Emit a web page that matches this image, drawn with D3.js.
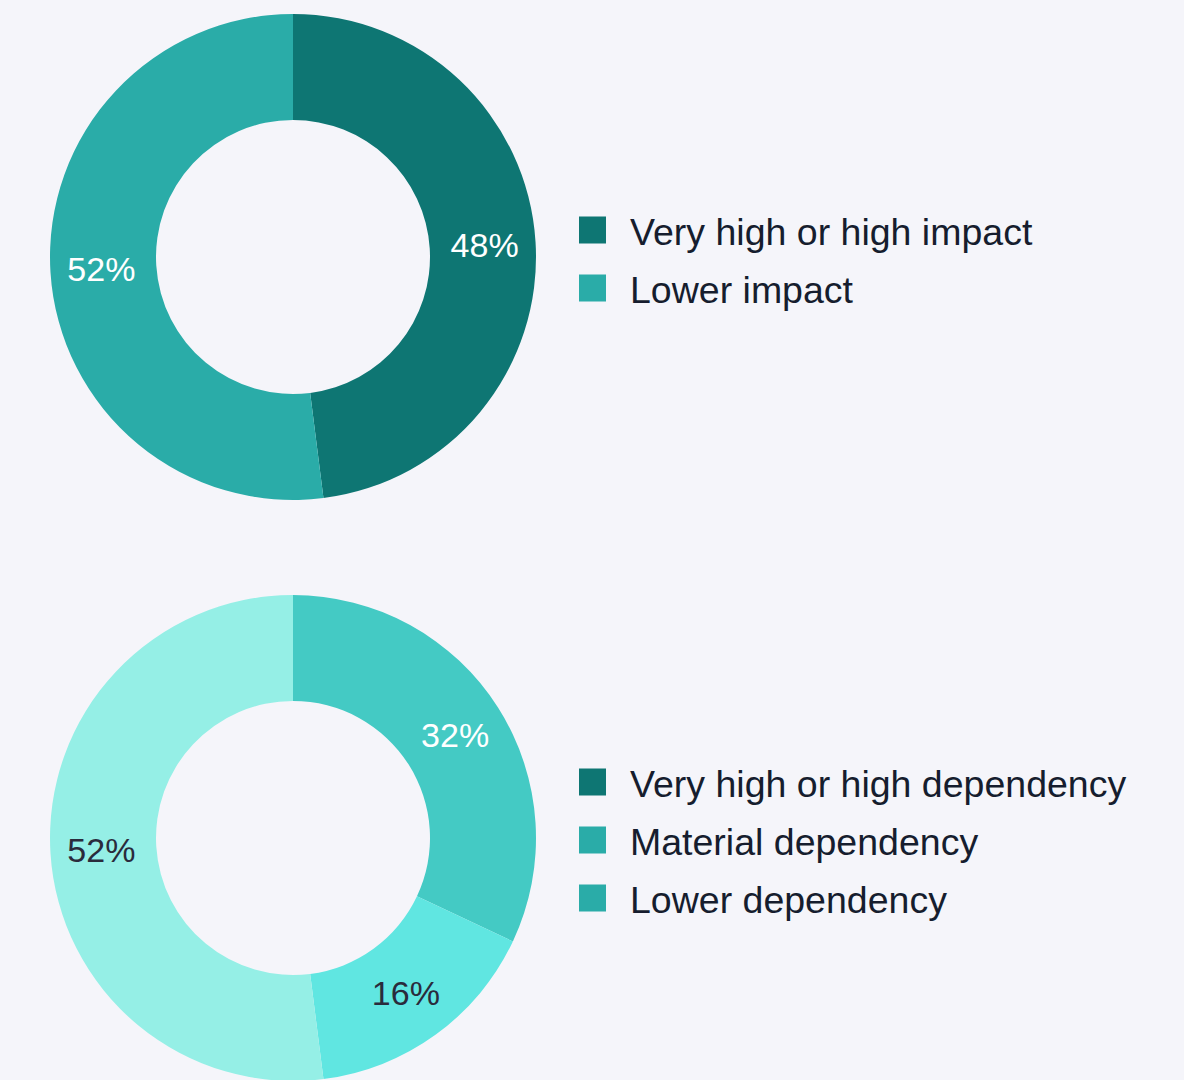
<!DOCTYPE html>
<html>
<head>
<meta charset="utf-8">
<script src="https://cdn.jsdelivr.net/npm/d3@7"></script>
<style>
  body { margin: 0; background: #f5f5fa; }
  svg { display: block; font-family: "Liberation Sans", Arial, sans-serif; }
</style>
</head>
<body>
<svg id="chart" width="1184" height="1080"></svg>
<script>
// impact donut
var impactLabels = ["Very high or high impact", "Lower impact"];
var impactValues = [48, 52];
var impactColors = ["#0e7673", "#2aaca8"];
var impactTextColors = ["#ffffff", "#ffffff"];

// dependency donut
var depLabels = ["Very high or high dependency", "Material dependency", "Lower dependency"];
var depValues = [32, 16, 52];
var depColors = ["#44cac4", "#60e6e1", "#95efe6"];
var depLegendColors = ["#0e7673", "#2aaca8", "#2aaca8"];
var depTextColors = ["#ffffff", "#2a2b3c", "#2a2b3c"];

var svg = d3.select("#chart");

var outerR = 243, innerR = 137;

var pie = d3.pie().sort(null).value(function(d) { return d; });
var arc = d3.arc().innerRadius(innerR).outerRadius(outerR);
var labelArc = d3.arc().innerRadius(192).outerRadius(192);

function donut(cx, cy, values, colors, textColors, legendLabels, legendColors) {
    var g = svg.append("g").attr("transform", "translate(" + cx + "," + cy + ")");
    var slices = g.selectAll("g.slice")
        .data(pie(values))
        .enter().append("g").attr("class", "slice");

    slices.append("path")
        .attr("d", arc)
        .attr("fill", function(d, i) { return colors[i]; });

    slices.append("text")
        .attr("transform", function(d) { return "translate(" + labelArc.centroid(d) + ")"; })
        .attr("text-anchor", "middle")
        .attr("dominant-baseline", "central")
        .attr("font-size", 34)
        .attr("fill", function(d, i) { return textColors[i]; })
        .text(function(d) { return d.data + "%"; });

    // legend to the right
    var step = 58;
    var top = cy + 2 - (legendLabels.length - 1) * step / 2;
    var leg = svg.append("g").attr("transform", "translate(579," + top + ")");
    var items = leg.selectAll("g")
        .data(legendLabels)
        .enter().append("g")
        .attr("transform", function(d, i) { return "translate(0," + i * step + ")"; });
    items.append("rect")
        .attr("x", 0).attr("y", -13.5)
        .attr("width", 27).attr("height", 27)
        .attr("fill", function(d, i) { return legendColors[i]; });
    items.append("text")
        .attr("x", 51)
        .attr("y", 2)
        .attr("dominant-baseline", "central")
        .attr("font-size", 37.5)
        .attr("fill", "#161d2e")
        .text(function(d) { return d; });
}

donut(293, 257, impactValues, impactColors, impactTextColors, impactLabels, impactColors);
donut(293, 838, depValues, depColors, depTextColors, depLabels, depLegendColors);
</script>
</body>
</html>
